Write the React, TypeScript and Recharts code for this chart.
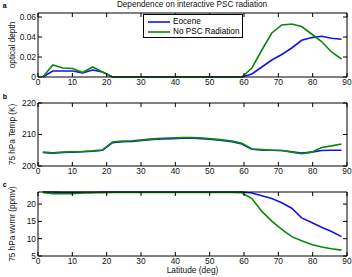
import React from "react";
import { LineChart, Line, XAxis, YAxis, Legend } from "recharts";

// latitude of each model row (deg)
const latitudes = [
  1.4, 4.3, 7.2, 10.1, 13.0, 15.9, 18.8, 21.7, 24.6, 27.5, 30.4, 33.3, 36.2, 39.1, 42.0, 44.9,
  47.8, 50.7, 53.6, 56.5, 59.4, 62.3, 65.2, 68.1, 71.0, 73.9, 76.8, 79.7, 82.6, 85.5, 88.4,
];

// a: PSC optical depth
const depthEocene = [
  0, 0.006, 0.006, 0.006, 0.004, 0.007, 0.005, 0, 0, 0, 0, 0, 0, 0, 0, 0, 0, 0, 0, 0, 0, 0.003,
  0.01, 0.017, 0.0225, 0.029, 0.0367, 0.0394, 0.0407, 0.0387, 0.0377,
];
const depthNoPsc = [
  0, 0.012, 0.009, 0.0085, 0.0045, 0.01, 0.005, 0, 0, 0, 0, 0, 0, 0, 0, 0, 0, 0, 0, 0, 0, 0.009,
  0.027, 0.044, 0.052, 0.053, 0.0505, 0.043, 0.0355, 0.025, 0.018,
];

// b: 75 hPa temperature (K)
const tempEocene = [
  204.3, 204.1, 204.3, 204.4, 204.5, 204.7, 205.0, 207.4, 207.7, 207.8, 208.1, 208.4, 208.6, 208.7,
  208.8, 208.8, 208.7, 208.4, 208.1, 207.7, 207.0, 205.3, 205.1, 205.0, 204.9, 204.5, 204.1, 204.4,
  204.9, 205.0, 205.0,
];
const tempNoPsc = [
  204.4, 204.2, 204.4, 204.5, 204.6, 204.8, 205.1, 207.6, 207.9, 208.0, 208.3, 208.6, 208.8, 208.9,
  209.0, 209.0, 208.9, 208.6, 208.3, 207.9, 207.2, 205.4, 205.2, 205.0, 204.9, 204.4, 203.9, 204.4,
  205.9, 206.4, 207.0,
];

// c: 75 hPa water vapour mixing ratio (ppmv)
const wvmrEocene = [
  23.5, 23.5, 23.4, 23.4, 23.4, 23.4, 23.5, 23.5, 23.5, 23.5, 23.5, 23.5, 23.5, 23.5, 23.5, 23.5,
  23.5, 23.5, 23.5, 23.5, 23.5, 23.2, 22.4, 21.6, 20.4, 18.8, 16.0, 14.7, 13.3, 12.1, 10.6,
];
const wvmrNoPsc = [
  23.4, 23.0, 23.0, 23.0, 23.2, 23.3, 23.3, 23.4, 23.4, 23.4, 23.4, 23.4, 23.4, 23.4, 23.4, 23.4,
  23.4, 23.4, 23.4, 23.4, 23.3, 21.6, 17.9, 15.1, 12.7, 10.6, 9.4, 8.3, 7.6, 7.1, 6.7,
];

const latTicks = [0, 10, 20, 30, 40, 50, 60, 70, 80, 90];
const depthTicks = [0, 0.02, 0.04, 0.06];
const tempTicks = [200, 210, 220];
const wvmrTicks = [5, 10, 15, 20];

const BLUE = "#1414e6";
const GREEN = "#0a860a";
const tickStyle = { fill: "#111", fontSize: 8.4 };
const blank = () => "";

const rowsOf = (a: number[], b: number[]) =>
  latitudes.map((lat, i) => ({ lat, eocene: a[i], noPsc: b[i] }));

function LegendBox(props: any) {
  const items = (props.payload || []).filter((it: any) => it.type !== "none");
  return (
    <div
      style={{
        border: "1px solid #000",
        background: "#fff",
        padding: "2px 3px 0px 4px",
        fontSize: 8.2,
        lineHeight: "10px",
        color: "#000",
      }}
    >
      {items.map((it: any) => (
        <div key={it.value} style={{ display: "flex", alignItems: "center", whiteSpace: "nowrap" }}>
          <svg width={22} height={4} style={{ display: "block" }}>
            <line x1={0} y1={2} x2={22} y2={2} stroke={it.color} strokeWidth={1.6} />
          </svg>
          <span style={{ marginLeft: 3 }}>{it.value}</span>
        </div>
      ))}
    </div>
  );
}

type PanelProps = {
  top: number;
  height: number;
  marginTop: number;
  xHeight: number;
  rows: any[];
  yDomain: [number, number];
  yTicks: number[];
  yFormat?: (v: number) => string;
  yLabel: string;
  xLabel?: string;
  legend?: boolean;
};

function Panel(p: PanelProps) {
  return (
    <div style={{ position: "absolute", left: 0, top: p.top }}>
      <LineChart
        width={352}
        height={p.height}
        data={p.rows}
        margin={{ top: p.marginTop - 1, right: 4, bottom: 0, left: 0 }}
      >
        <XAxis
          xAxisId="b"
          type="number"
          dataKey="lat"
          domain={[0, 90]}
          ticks={latTicks}
          height={p.xHeight}
          tickSize={-4}
          tickMargin={6}
          tick={tickStyle}
          stroke="#000"
          label={
            p.xLabel
              ? { value: p.xLabel, position: "insideBottom", offset: 4, fontSize: 8.4, fill: "#111" }
              : undefined
          }
        />
        <XAxis
          xAxisId="t"
          orientation="top"
          type="number"
          dataKey="lat"
          domain={[0, 90]}
          ticks={latTicks}
          height={1}
          tickSize={-4}
          tickFormatter={blank}
          stroke="#000"
        />
        <YAxis
          yAxisId="l"
          type="number"
          domain={p.yDomain}
          ticks={p.yTicks}
          width={38}
          tickSize={-4}
          tickMargin={6}
          tick={tickStyle}
          tickFormatter={p.yFormat}
          stroke="#000"
          label={{
            value: p.yLabel,
            angle: -90,
            position: "insideLeft",
            offset: 12,
            fontSize: 8.2,
            fill: "#111",
            style: { textAnchor: "middle" },
          }}
        />
        <YAxis
          yAxisId="r"
          orientation="right"
          type="number"
          domain={p.yDomain}
          ticks={p.yTicks}
          width={1}
          tickSize={-4}
          tickFormatter={blank}
          stroke="#000"
        />
        {/* invisible series so the top / right frame axes have something bound */}
        <Line
          xAxisId="t"
          yAxisId="r"
          dataKey="eocene"
          stroke="none"
          dot={false}
          activeDot={false}
          legendType="none"
          isAnimationActive={false}
        />
        <Line
          xAxisId="b"
          yAxisId="l"
          type="linear"
          dataKey="eocene"
          name="Eocene"
          stroke={BLUE}
          strokeWidth={1.6}
          dot={false}
          isAnimationActive={false}
        />
        <Line
          xAxisId="b"
          yAxisId="l"
          type="linear"
          dataKey="noPsc"
          name="No PSC Radiation"
          stroke={GREEN}
          strokeWidth={1.6}
          dot={false}
          isAnimationActive={false}
        />
        {p.legend && (
          <Legend
            layout="vertical"
            align="center"
            verticalAlign="middle"
            content={LegendBox}
            wrapperStyle={{ left: 143, top: 14, width: "auto", height: "auto" }}
          />
        )}
      </LineChart>
    </div>
  );
}

export default function App() {
  return (
    <div
      style={{
        position: "absolute",
        left: 0,
        top: 0,
        width: 352,
        height: 277,
        background: "#fff",
        fontFamily: "'Liberation Sans', Arial, sans-serif",
      }}
    >
      <Panel
        top={0}
        height={95}
        marginTop={13}
        xHeight={18}
        rows={rowsOf(depthEocene, depthNoPsc)}
        yDomain={[0, 0.064]}
        yTicks={depthTicks}
        yFormat={(v) => (v === 0 ? "0" : v.toFixed(2))}
        yLabel="optical depth"
        legend
      />
      <Panel
        top={90}
        height={94}
        marginTop={13}
        xHeight={18}
        rows={rowsOf(tempEocene, tempNoPsc)}
        yDomain={[200, 220]}
        yTicks={tempTicks}
        yLabel="75 hPa Temp (K)"
      />
      <Panel
        top={180}
        height={97}
        marginTop={12}
        xHeight={21}
        rows={rowsOf(wvmrEocene, wvmrNoPsc)}
        yDomain={[5, 23.5]}
        yTicks={wvmrTicks}
        yLabel="75 hPa wvmr (ppmv)"
        xLabel="Latitude (deg)"
      />
      <svg
        width={352}
        height={277}
        style={{ position: "absolute", left: 0, top: 0, pointerEvents: "none" }}
      >
        <text x={192} y={6.8} textAnchor="middle" fontSize={8.2} fill="#111">
          Dependence on interactive PSC radiation
        </text>
        <text x={2.7} y={7.8} fontSize={7} fontWeight="bold" fill="#000">
          a
        </text>
        <text x={2.7} y={99} fontSize={7} fontWeight="bold" fill="#000">
          b
        </text>
        <text x={2.7} y={187.3} fontSize={7} fontWeight="bold" fill="#000">
          c
        </text>
      </svg>
    </div>
  );
}
